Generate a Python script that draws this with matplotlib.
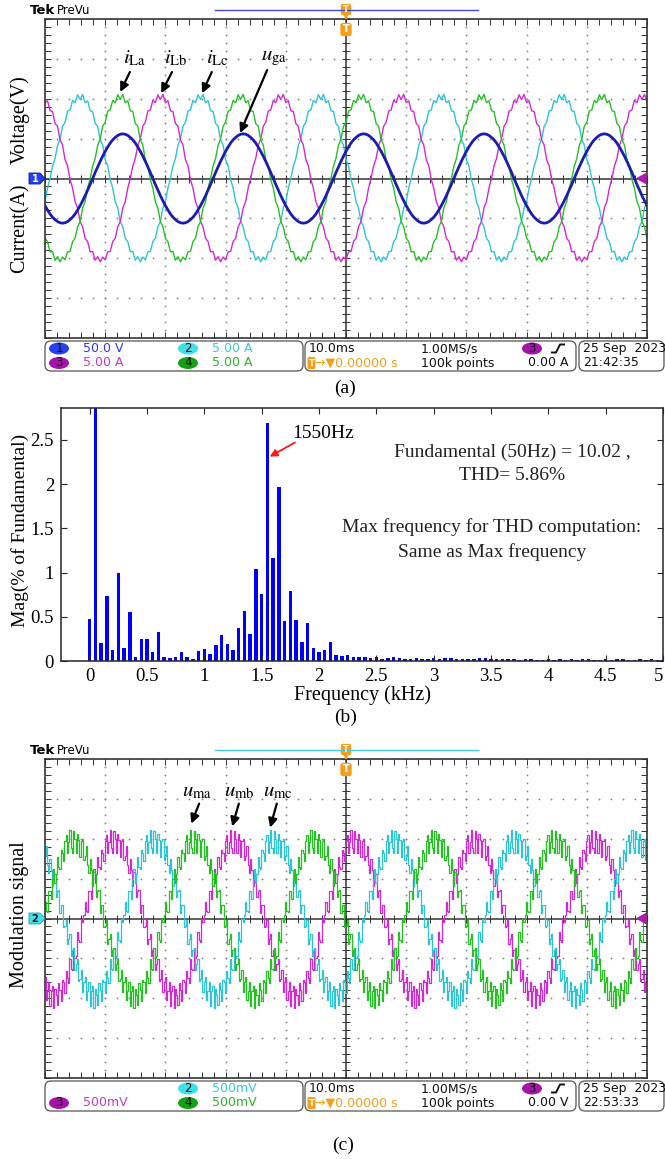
import numpy as np
import matplotlib
matplotlib.use("Agg")
import matplotlib.pyplot as plt
from matplotlib.patches import FancyBboxPatch, Ellipse, Polygon

plt.rcParams["font.family"] = ["Liberation Serif", "DejaVu Serif"]
plt.rcParams["mathtext.fontset"] = "stix"

W, H = 665, 1159
SANS = "DejaVu Sans"
N_DIV = 10

# ---- (a) grid currents / voltage: one 20 ms period (2 div), 48 samples, in divisions
i_L_period = [0.00, 0.31, 0.50, 0.83, 0.99, 1.31, 1.41, 1.69, 1.72, 1.96, 1.90, 2.10,
              1.98, 2.11, 1.90, 1.95, 1.70, 1.68, 1.38, 1.31, 0.97, 0.84, 0.47, 0.32,
              -0.03, -0.24, -0.58, -0.74, -1.08, -1.21, -1.50, -1.58, -1.84, -1.83, -2.05, -1.96,
              -2.09, -1.97, -2.04, -1.84, -1.83, -1.58, -1.50, -1.21, -1.08, -0.74, -0.58, -0.24]
u_ga_period = [0.00, 0.15, 0.29, 0.43, 0.56, 0.68, 0.79, 0.89, 0.97, 1.03, 1.08, 1.11,
               1.12, 1.11, 1.08, 1.03, 0.97, 0.89, 0.79, 0.68, 0.56, 0.43, 0.29, 0.15,
               0.00, -0.15, -0.29, -0.43, -0.56, -0.68, -0.79, -0.89, -0.97, -1.03, -1.08, -1.11,
               -1.12, -1.11, -1.08, -1.03, -0.97, -0.89, -0.79, -0.68, -0.56, -0.43, -0.29, -0.15]
A_SAMPLES_PER_DIV = 24
A_SHIFT = 16              # 120 degrees
I_LA_START = 30
U_GA_START = 29

# ---- (c) modulation signals: one period, 96 samples, in divisions
u_m_period = [0.10, 0.41, 0.20, 0.16, 0.70, 0.68, 0.50, 0.98, 1.23, 0.90, 1.11, 1.55,
              1.28, 1.23, 1.73, 1.64, 1.43, 1.95, 2.10, 1.65, 1.93, 2.23, 1.78, 1.65,
              2.20, 2.00, 1.65, 2.13, 1.96, 1.55, 1.95, 2.00, 1.47, 1.57, 1.83, 1.35,
              1.13, 1.49, 1.21, 0.82, 1.16, 1.11, 0.55, 0.68, 0.72, 0.13, 0.35, 0.33,
              -0.22, -0.18, -0.03, -0.63, -0.52, -0.39, -0.95, -0.78, -0.73, -1.30, -1.14, -1.01,
              -1.56, -1.52, -1.29, -1.84, -1.59, -1.47, -2.05, -1.83, -1.58, -2.19, -1.83, -1.70,
              -2.25, -1.77, -1.91, -2.17, -1.63, -1.80, -2.08, -1.55, -1.59, -1.87, -1.31, -1.49,
              -1.62, -1.01, -1.27, -1.28, -0.73, -0.98, -0.93, -0.35, -0.55, -0.60, 0.00, -0.08]
C_SAMPLES_PER_DIV = 48
C_SHIFT = 32              # 120 degrees
U_MA_START = 1

# ---- (b) harmonic spectrum of the grid current, 50 Hz bins
mag_pct = [0.47, 100.0, 0.20, 0.74, 0.13, 0.99, 0.15, 0.55, 0.04, 0.25,
           0.25, 0.10, 0.33, 0.04, 0.03, 0.04, 0.10, 0.05, 0.02, 0.11,
           0.14, 0.08, 0.18, 0.29, 0.19, 0.13, 0.37, 0.57, 0.31, 1.04,
           0.76, 2.69, 1.16, 1.97, 0.45, 0.79, 0.46, 0.22, 0.43, 0.15,
           0.10, 0.13, 0.22, 0.07, 0.06, 0.07, 0.05, 0.04, 0.04, 0.03,
           0.04, 0.02, 0.03, 0.04, 0.03, 0.02, 0.02, 0.03, 0.02, 0.02,
           0.03, 0.02, 0.03, 0.03, 0.02, 0.02, 0.02, 0.02, 0.03, 0.03,
           0.02, 0.02, 0.02, 0.02, 0.02, 0.01, 0.02, 0.02, 0.01, 0.01,
           0.02, 0.01, 0.02, 0.01, 0.02, 0.01, 0.02, 0.02, 0.01, 0.01,
           0.02, 0.01, 0.02, 0.02, 0.01, 0.01, 0.02, 0.01, 0.02, 0.01, 0.01]
freq_khz = np.round(np.arange(len(mag_pct)) * 0.05, 2)
x_ticks = [0, 0.5, 1, 1.5, 2, 2.5, 3, 3.5, 4, 4.5, 5]
x_tick_labels = ["0", "0.5", "1", "1.5", "2", "2.5", "3", "3.5", "4", "4.5", "5"]
y_ticks = [0, 0.5, 1, 1.5, 2, 2.5]
y_tick_labels = ["0", "0.5", "1", "1.5", "2", "2.5"]

# scope channel settings shown in the readout
scales_a = {"1": "50.0 V", "2": "5.00 A", "3": "5.00 A", "4": "5.00 A"}
scales_c = {"2": "500mV", "3": "500mV", "4": "500mV"}

CH_TRACE = {"1": "#1c1cae", "2": "#2ec4d2", "3": "#d22ad2", "4": "#26c026"}
CH_BADGE = {"1": "#2440f0", "2": "#3ee0ea", "3": "#a414a8", "4": "#16a016"}
CH_TEXT = {"1": "#3434ff", "2": "#34cade", "3": "#c43cc4", "4": "#2eb22e"}
ORANGE = "#f2a01c"
FRAME = "#333333"


def wave(period, start, n):
    return np.take(period, np.arange(start, start + n), mode="wrap")


fig = plt.figure(figsize=(W / 100, H / 100), dpi=100)


def px_axes(x0, y0, x1, y1):
    return fig.add_axes([x0 / W, 1 - y1 / H, (x1 - x0) / W, (y1 - y0) / H])


def scope_axes(top):
    ax = px_axes(45, top, 647, top + 319)
    ax.set_xlim(0, N_DIV)
    ax.set_ylim(-4, 4)
    for s in ax.spines.values():
        s.set_color(FRAME)
        s.set_linewidth(1.2)
    ax.set_xticks(np.arange(0, 11))
    ax.set_xticks(np.arange(0, 10.01, 0.2), minor=True)
    ax.set_yticks(np.arange(-4, 5))
    ax.set_yticks(np.arange(-4, 4.01, 0.2), minor=True)
    ax.tick_params(which="both", direction="in", length=4, width=0.7, color=FRAME,
                   top=True, right=True, labelbottom=False, labelleft=False)
    gy = np.arange(-4, 4.01, 0.2)
    gx = np.arange(0, 10.01, 0.2)
    for xv in (1, 2, 3, 4, 6, 7, 8, 9):
        ax.plot(np.full(gy.size, xv), gy, ls="none", marker="o", ms=1.3, mew=0, color="#858585")
    for yv in (-3, -2, -1, 1, 2, 3):
        ax.plot(gx, np.full(gx.size, yv), ls="none", marker="o", ms=1.3, mew=0, color="#858585")
    ax.axhline(0, color=FRAME, lw=1.1)
    ax.axvline(5, color=FRAME, lw=1.1)
    ax.plot(gx, np.zeros(gx.size), ls="none", marker="|", ms=6, mew=0.7, color=FRAME)
    ax.plot(np.full(gy.size, 5), gy, ls="none", marker="_", ms=6, mew=0.7, color=FRAME)
    return ax


def arrow(ax, tail, head, color="k", lw=1.6, ms=13):
    ax.annotate("", xy=head, xytext=tail,
                arrowprops=dict(arrowstyle="-|>", color=color, lw=lw, mutation_scale=ms,
                                shrinkA=0, shrinkB=0))


# ---------------- (a)
ax_a = scope_axes(19)
n_a = N_DIV * A_SAMPLES_PER_DIV + 1
t_a = np.arange(n_a) / A_SAMPLES_PER_DIV
i_la = wave(i_L_period, I_LA_START, n_a)
i_lb = wave(i_L_period, I_LA_START - A_SHIFT, n_a)
i_lc = wave(i_L_period, I_LA_START - 2 * A_SHIFT, n_a)
u_ga = wave(u_ga_period, U_GA_START, n_a)
ax_a.plot(t_a, i_lc, color=CH_TRACE["2"], lw=1.0)
ax_a.plot(t_a, i_lb, color=CH_TRACE["3"], lw=1.0)
ax_a.plot(t_a, i_la, color=CH_TRACE["4"], lw=1.0)
ax_a.plot(t_a, u_ga, color=CH_TRACE["1"], lw=2.0)

for txt, xt, tail, head in [(r"$i_{\rm La}$", 1.48, (1.41, 2.67), (1.25, 2.17)),
                            (r"$i_{\rm Lb}$", 2.18, (2.11, 2.67), (1.93, 2.14)),
                            (r"$i_{\rm Lc}$", 2.86, (2.77, 2.67), (2.61, 2.14)),
                            (r"$u_{\rm ga}$", 3.80, (3.69, 2.72), (3.24, 1.14))]:
    ax_a.text(xt, 3.02, txt, fontsize=15, ha="center", va="center")
    arrow(ax_a, tail, head)

# ---------------- (b)
bx = px_axes(61, 408, 663, 661)
bx.bar(freq_khz, mag_pct, width=0.03, color="#0000ff")
bx.set_xlim(-0.25, 5)
bx.set_ylim(0, 2.86)
bx.set_xticks(x_ticks, x_tick_labels)
bx.set_yticks(y_ticks, y_tick_labels)
bx.tick_params(which="both", direction="in", length=4, width=0.8, color="#262626",
               top=True, right=True, labelsize=13.5, pad=5)
bx.get_xticklabels()[-1].set_horizontalalignment("right")
for s in bx.spines.values():
    s.set_color("#262626")
    s.set_linewidth(1.1)
bx.text(0.384, 0.901, "1550Hz", transform=bx.transAxes, fontsize=14, ha="left", va="center")
arrow(bx, (1.79, 2.47), (1.57, 2.31), color="#ff1a1a", lw=1.3, ms=11)
bx.text(0.749, 0.826, "Fundamental (50Hz) = 10.02 ,", transform=bx.transAxes,
        fontsize=14, ha="center", va="center", color="#222222")
bx.text(0.749, 0.735, "THD= 5.86%", transform=bx.transAxes,
        fontsize=14, ha="center", va="center", color="#222222")
bx.text(0.716, 0.530, "Max frequency for THD computation:", transform=bx.transAxes,
        fontsize=14, ha="center", va="center", color="#222222")
bx.text(0.716, 0.431, "Same as Max frequency", transform=bx.transAxes,
        fontsize=14, ha="center", va="center", color="#222222")

# ---------------- (c)
ax_c = scope_axes(759)
n_c = N_DIV * C_SAMPLES_PER_DIV + 1
t_c = np.arange(n_c) / C_SAMPLES_PER_DIV
u_ma = wave(u_m_period, U_MA_START, n_c)
u_mb = wave(u_m_period, U_MA_START - C_SHIFT, n_c)
u_mc = wave(u_m_period, U_MA_START - 2 * C_SHIFT, n_c)
ax_c.plot(t_c, u_mb, color=CH_TRACE["3"], lw=0.9, drawstyle="steps-mid")
ax_c.plot(t_c, u_mc, color=CH_TRACE["2"], lw=0.9, drawstyle="steps-mid")
ax_c.plot(t_c, u_ma, color=CH_TRACE["4"], lw=0.9, drawstyle="steps-mid")

for txt, xt, tail, head in [(r"$u_{\rm ma}$", 2.52, (2.56, 2.88), (2.43, 2.38)),
                            (r"$u_{\rm mb}$", 3.22, (3.22, 2.88), (3.11, 2.31)),
                            (r"$u_{\rm mc}$", 3.87, (3.85, 2.88), (3.74, 2.28))]:
    ax_c.text(xt, 3.18, txt, fontsize=15, ha="center", va="center")
    arrow(ax_c, tail, head)

# ---------------- overlay in pixel coordinates: scope chrome, labels
ov = fig.add_axes([0, 0, 1, 1], zorder=10)
ov.set_xlim(0, W)
ov.set_ylim(H, 0)
ov.axis("off")
ov.patch.set_alpha(0)


def scope_header(top, bar_color):
    y = top - 8
    ov.text(30, y, "Tek", family=SANS, weight="bold", fontsize=9.5, va="center", ha="left")
    ov.text(57, y, "PreVu", family=SANS, fontsize=8.5, va="center", ha="left")
    ov.plot([215, 478], [y - 1, y - 1], color=bar_color, lw=1.0)
    ov.add_patch(FancyBboxPatch((342, y - 6), 8, 9, boxstyle="round,pad=0.5,rounding_size=1.5",
                                fc=ORANGE, ec=ORANGE))
    ov.text(346, y - 1.5, "T", family=SANS, weight="bold", fontsize=6, color="white",
            ha="center", va="center")
    ov.plot([346], [y + 6], marker="v", ms=5, color=ORANGE, mew=0)
    ov.add_patch(FancyBboxPatch((341.5, top + 5), 9, 11, boxstyle="round,pad=0.5,rounding_size=2",
                                fc=ORANGE, ec=ORANGE))
    ov.text(346, top + 10.5, "T", family=SANS, weight="bold", fontsize=7, color="white",
            ha="center", va="center")


def level_markers(yc, ch):
    ov.add_patch(Polygon([(29, yc - 5.5), (40, yc - 5.5), (45, yc), (40, yc + 5.5), (29, yc + 5.5)],
                         closed=True, fc=CH_BADGE[ch], ec="#1010a0" if ch == "1" else "#20a0b0", lw=0.6))
    ov.text(35, yc, ch, family=SANS, weight="bold", fontsize=7, color="white" if ch == "1" else "#1a1a1a",
            ha="center", va="center")
    ov.add_patch(Polygon([(646, yc - 5), (637, yc), (646, yc + 5)], closed=True,
                         fc="#b01ab0", ec="#b01ab0"))


def badge(x, y, ch):
    ov.add_patch(Ellipse((x, y), 20, 12, fc=CH_BADGE[ch], ec="none"))
    ov.text(x, y, ch, family=SANS, fontsize=8.5, color="#111111", ha="center", va="center")


def status_bar(y0, scales, trig_unit, date, clock):
    r1, r2 = y0 + 7.5, y0 + 22
    for x0, x1 in [(45, 303), (305, 576), (579, 664)]:
        ov.add_patch(FancyBboxPatch((x0 + 4, y0 + 4), x1 - x0 - 8, 22,
                                    boxstyle="round,pad=4,rounding_size=6",
                                    fc="white", ec="#555555", lw=0.9))
    slots = {"1": (59, 83, r1), "2": (188, 212, r1), "3": (59, 83, r2), "4": (188, 212, r2)}
    for ch, txt in scales.items():
        bxp, tx, ry = slots[ch]
        badge(bxp, ry, ch)
        ov.text(tx, ry, txt, family=SANS, fontsize=9, color=CH_TEXT[ch], ha="left", va="center")
    kw = dict(family=SANS, fontsize=9, ha="left", va="center")
    ov.text(309, r1, "10.0ms", color="#111111", **kw)
    ov.text(421, r1, "1.00MS/s", color="#111111", **kw)
    badge(532, r1, "3")
    ov.plot([552, 556, 560, 564], [r1 + 4, r1 + 4, r1 - 4, r1 - 4], color="#111111", lw=1.4)
    ov.add_patch(FancyBboxPatch((308.5, r2 - 5), 6, 10, boxstyle="round,pad=0.3,rounding_size=1",
                                fc=ORANGE, ec=ORANGE))
    ov.text(311.5, r2, "T", family=SANS, weight="bold", fontsize=6, color="white",
            ha="center", va="center")
    ov.text(315, r2, "→▼0.00000 s", color=ORANGE, **kw)
    ov.text(421, r2, "100k points", color="#111111", **kw)
    ov.text(568, r2, "0.00 " + trig_unit, family=SANS, fontsize=9, color="#111111",
            ha="right", va="center")
    ov.text(583, r1, date, color="#111111", **kw)
    ov.text(583, r2, clock, color="#111111", **kw)


scope_header(19, "#4646d6")
level_markers(178.5, "1")
status_bar(341, scales_a, "A", "25 Sep  2023", "21:42:35")
ov.text(20, 120, "Voltage(V)", rotation=90, fontsize=14.5, ha="center", va="center")
ov.text(20, 228, "Current(A)", rotation=90, fontsize=14.5, ha="center", va="center")
ov.text(345, 388, "(a)", fontsize=14, ha="center", va="center")

ov.text(20, 530, "Mag(% of Fundamental)", rotation=90, fontsize=14, ha="center", va="center")
ov.text(362, 695, "Frequency (kHz)", fontsize=14.5, ha="center", va="center")
ov.text(346, 717, "(b)", fontsize=14, ha="center", va="center")

scope_header(759, "#46c8d8")
level_markers(918.5, "2")
status_bar(1081, scales_c, "V", "25 Sep  2023", "22:53:33")
ov.text(20, 915, "Modulation signal", rotation=90, fontsize=14.5, ha="center", va="center")
ov.text(343, 1145, "(c)", fontsize=14, ha="center", va="center")

fig.savefig("out.png", dpi=100)
